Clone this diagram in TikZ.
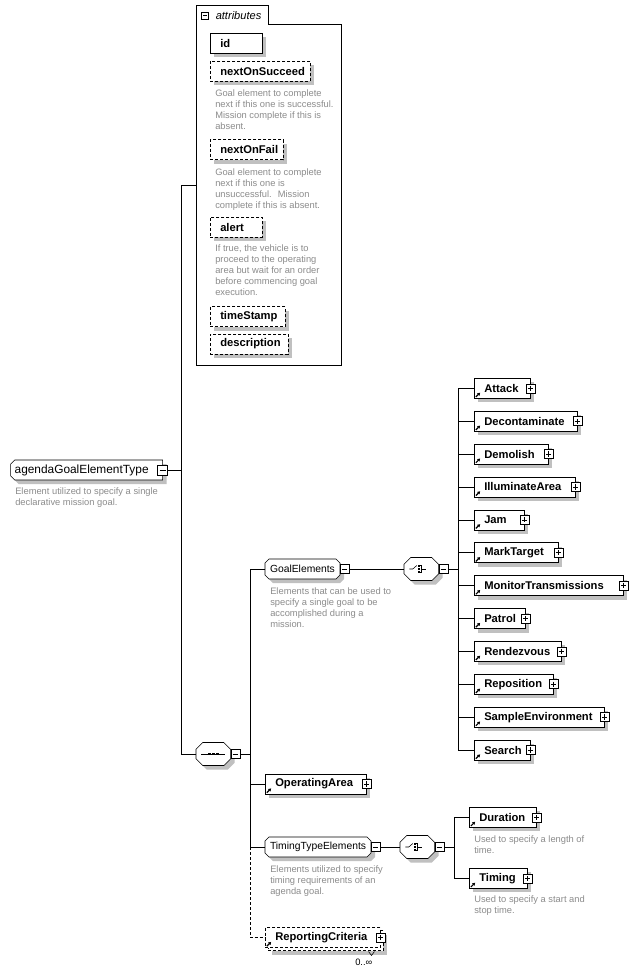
\documentclass[tikz,border=0pt]{standalone}
\usepackage{fontspec}
\setmainfont{Liberation Sans}
\usetikzlibrary{shadows,arrows.meta,backgrounds}
\definecolor{desccol}{RGB}{140,140,140}
\definecolor{shadcol}{RGB}{192,192,192}
\tikzset{
  shad/.style={drop shadow={shadow xshift=3pt,shadow yshift=-3pt,fill=shadcol,opacity=1}},
  opt/.style={dash pattern=on 2.25pt off 1.5pt},
  bfont/.style={font=\fontsize{8.4}{10}\selectfont\bfseries},
  attbase/.style={bfont, draw, fill=white, rectangle, anchor=west, minimum height=15pt,
    inner ysep=0pt, inner xsep=7.5pt, align=left, text width=#1},
  attbox/.style={attbase=#1, shad},
  refarrow/.style={path picture={\draw[line width=0.9pt,solid,-{Triangle[length=2pt,width=2.4pt]}]
      ([shift={(1.2pt,1pt)}]path picture bounding box.south west) -- ++(3.2pt,3.2pt);}},
  refbox/.style={attbase=#1, shad, refarrow},
  grpbox/.style={font=\fontsize{7.75}{9}\selectfont, rectangle, anchor=west, outer sep=0pt,
    minimum height=15pt, inner ysep=0pt, inner xsep=3.75pt, align=left, text width=#1},
  rootbox/.style={font=\fontsize{8.9}{10}\selectfont, rectangle, anchor=west, outer sep=0pt,
    minimum height=15pt, inner ysep=0pt, inner xsep=3pt, align=left, text width=#1},
  comp/.style={rectangle, minimum width=25.9pt, minimum height=17.25pt, inner sep=0pt,
    outer sep=0pt, anchor=west},
  pmbox/.style={draw, fill=white, solid, minimum size=6.75pt, inner sep=0pt},
  plusbox/.style={pmbox, path picture={
      \draw ([xshift=1.4pt]path picture bounding box.west) -- ([xshift=-1.4pt]path picture bounding box.east)
            ([yshift=-1.4pt]path picture bounding box.north) -- ([yshift=1.4pt]path picture bounding box.south);}},
  minusbox/.style={pmbox, path picture={
      \draw ([xshift=1.4pt]path picture bounding box.west) -- ([xshift=-1.4pt]path picture bounding box.east);}},
  desc/.style={font=\fontsize{7}{8.25}\selectfont, text=desccol, align=left, anchor=north west, inner sep=0pt},
}
% chamfered outline with shadow behind a named node: #1 node, #2 left chamfer, #3 right chamfer, #4 vertical chamfer
\newcommand\octdraw[4]{%
  \fill[shadcol, transform canvas={shift={(3pt,-3pt)}}]
    ([xshift=#2]#1.north west) -- ([xshift=-#3]#1.north east) -- ([yshift=-#4]#1.north east)
    -- ([yshift=#4]#1.south east) -- ([xshift=-#3]#1.south east) -- ([xshift=#2]#1.south west)
    -- ([yshift=#4]#1.south west) -- ([yshift=-#4]#1.north west) -- cycle;
  \filldraw[fill=white]
    ([xshift=#2]#1.north west) -- ([xshift=-#3]#1.north east) -- ([yshift=-#4]#1.north east)
    -- ([yshift=#4]#1.south east) -- ([xshift=-#3]#1.south east) -- ([xshift=#2]#1.south west)
    -- ([yshift=#4]#1.south west) -- ([yshift=-#4]#1.north west) -- cycle;
}
\newcommand\choicesym[1]{%
  \draw ([shift={(-12,0)}]#1.center) -- ([shift={(-8.5,0)}]#1.center) -- ([shift={(-4.5,-3.5)}]#1.center);
  \foreach \dy in {-3,0,3} \fill ([shift={(-3.6,\dy-1.1)}]#1.center) rectangle ++(2.2,2.2);
  \draw ([shift={(-1,-3.5)}]#1.center) -- ([shift={(0.2,-3.5)}]#1.center) -- ([shift={(0.2,3.5)}]#1.center) -- ([shift={(-1,3.5)}]#1.center);
  \draw ([shift={(0.2,0)}]#1.center) -- ([shift={(4.5,0)}]#1.center);
}
\begin{document}
\begin{tikzpicture}[x=0.75pt,y=-0.75pt,line width=0.75pt]
\begin{pgfonlayer}{background}
\fill[white] (0,0) rectangle (636,975);
\end{pgfonlayer}
\useasboundingbox (0,0) rectangle (636,975);

% junction coordinates
\coordinate (attrw) at (196,185);
\coordinate (v1t) at (181,185);
\coordinate (v1b) at (181,754);
\coordinate (v2t) at (250,569);
\coordinate (v2m) at (250,847);
\coordinate (v2b) at (250,937.5);
\coordinate (v3t) at (458,388.3);
\coordinate (v3b) at (458,750);
\coordinate (v4t) at (454,817.3);
\coordinate (v4b) at (454,878.3);

% attributes container
\draw (196,365) -- (196,5) -- (268,5) -- (268,24) -- (341,24) -- (341,365) -- cycle;
\node[minusbox, minimum size=5.25pt] (attm) at (205,15.3) {};
\node[font=\fontsize{8.3}{10}\selectfont\itshape, anchor=west, inner sep=0pt] (attl) at (215.5,15.3) {attributes};

\node[attbox=24pt] (id) at (210,43.3) {id};
\node[attbox=60pt, opt] (nos) at (210,71) {nextOnSucceed};
\node[desc] (nosd) at (215,89) {Goal element to complete\\next if this one is successful.\\Mission complete if this is\\absent.};
\node[attbox=39.75pt, opt] (nof) at (210,149.5) {nextOnFail};
\node[desc] (nofd) at (215,168.2) {Goal element to complete\\next if this one is\\unsuccessful.~ Mission\\complete if this is absent.};
\node[attbox=24pt, opt] (alert) at (210,227) {alert};
\node[desc] (alertd) at (215,244.8) {If true, the vehicle is to\\proceed to the operating\\area but wait for an order\\before commencing goal\\execution.};
\node[attbox=41.25pt, opt] (ts) at (210,316.5) {timeStamp};
\node[attbox=43.5pt, opt] (descr) at (210,344) {description};

% root
\node[rootbox=108pt] (root) at (10.7,470) {agendaGoalElementType};
\node[minusbox, minimum size=7.5pt] (rootm) at (root.east) {};
\node[desc] (rootd) at (15,487.2) {Element utilized to specify a single\\declarative mission goal.};

% sequence
\node[comp] (seq) at (196,754) {};
\node[minusbox, anchor=west] (seqm) at (seq.east) {};
\draw ([shift={(-12,0)}]seq.center) -- ([shift={(12,0)}]seq.center);
\foreach \dx in {-4,0,4} \fill ([shift={(\dx-1.3,-1.3)}]seq.center) rectangle ++(2.6,2.6);

% GoalElements group
\node[grpbox=48.75pt] (goal) at (265,569) {GoalElements};
\node[minusbox, anchor=west] (goalm) at (goal.east) {};
\node[desc] (goald) at (270,587.2) {Elements that can be used to\\specify a single goal to be\\accomplished during a\\mission.};
\node[comp] (ch1) at (404,569) {};
\node[minusbox, anchor=west] (ch1m) at (ch1.east) {};
\choicesym{ch1}

\foreach \nm/\txt/\tw/\yy in {attack/Attack/27pt/388.3, deco/Decontaminate/62.25pt/421.2,
   demo/Demolish/40.5pt/454.1, illum/IlluminateArea/60.75pt/486.9, jam/Jam/22.5pt/519.8,
   mark/MarkTarget/48pt/552.7, monit/MonitorTransmissions/96.75pt/585.6, patrol/Patrol/23.25pt/618.5,
   rend/Rendezvous/50.25pt/651.3, repos/Reposition/44.25pt/684.2, sample/SampleEnvironment/82.5pt/717.1,
   search/Search/27pt/750} {
  \node[refbox=\tw] (\nm) at (474,\yy) {\txt};
  \node[plusbox] (\nm p) at (\nm.east) {};
  \draw (\nm.west -| v3t) -- (\nm.west);
}

% OperatingArea
\node[refbox=60.75pt] (oparea) at (265,784) {OperatingArea};
\node[plusbox] (operp) at (oparea.east) {};

% TimingTypeElements group
\node[grpbox=72pt] (tte) at (265,847) {TimingTypeElements};
\node[minusbox, anchor=west] (ttem) at (tte.east) {};
\node[desc] (tted) at (270,865.5) {Elements utilized to specify\\timing requirements of an\\agenda goal.};
\node[comp] (ch2) at (400,847) {};
\node[minusbox, anchor=west] (ch2m) at (ch2.east) {};
\choicesym{ch2}
\node[refbox=35.25pt] (dur) at (469,817.3) {Duration};
\node[plusbox] (durp) at (dur.east) {};
\node[desc] (durd) at (474,835.5) {Used to specify a length of\\time.};
\node[refbox=28.5pt] (tim) at (469,878.3) {Timing};
\node[plusbox] (timp) at (tim.east) {};
\node[desc] (timd) at (474,895.5) {Used to specify a start and\\stop time.};

% ReportingCriteria (optional, repeated)
\node[attbase=71.25pt, opt, refarrow,
      drop shadow={shadow xshift=5.25pt,shadow yshift=-5.25pt,fill=shadcol,opacity=1},
      general shadow={shadow xshift=2.25pt,shadow yshift=-2.25pt,draw,opt,fill=white,opacity=1}]
      (rc) at (265,937.5) {ReportingCriteria};
\node[plusbox] (rcp) at (rc.east) {};
\coordinate (tk1) at (368.5,951.5);
\coordinate (tk2) at (371.5,955.5);
\coordinate (tk3) at (374.5,951.5);
\draw (tk1) -- (tk2) -- (tk3);
\node[font=\fontsize{7}{8}\selectfont, anchor=west, inner sep=0pt] (occ) at (355,962.5) {0..∞};

% chamfered outlines (behind their nodes)
\begin{pgfonlayer}{background}
\octdraw{root}{3pt}{0pt}{3pt}
\octdraw{goal}{3pt}{3pt}{3pt}
\octdraw{tte}{3pt}{3pt}{3pt}
\octdraw{seq}{5pt}{5pt}{5pt}
\octdraw{ch1}{5pt}{5pt}{5pt}
\octdraw{ch2}{5pt}{5pt}{5pt}
\end{pgfonlayer}

% connectors
\draw (attrw) -- (v1t) -- (v1b) -- (seq.west);
\draw (rootm.east) -- (rootm.east -| v1t);
\draw (seqm.east) -- (seqm.east -| v2t);
\draw (goal.west) -- (v2t) -- (v2m) -- (tte.west);
\draw (oparea.west -| v2t) -- (oparea.west);
\draw[opt] (v2m) -- (v2b) -- (rc.west);
\draw (goalm.east) -- (ch1.west);
\draw (ch1m.east) -- (ch1m.east -| v3t);
\draw (v3t) -- (v3b);
\draw (ttem.east) -- (ch2.west);
\draw (ch2m.east) -- (ch2m.east -| v4t);
\draw (dur.west) -- (v4t) -- (v4b) -- (tim.west);
\end{tikzpicture}
\end{document}
